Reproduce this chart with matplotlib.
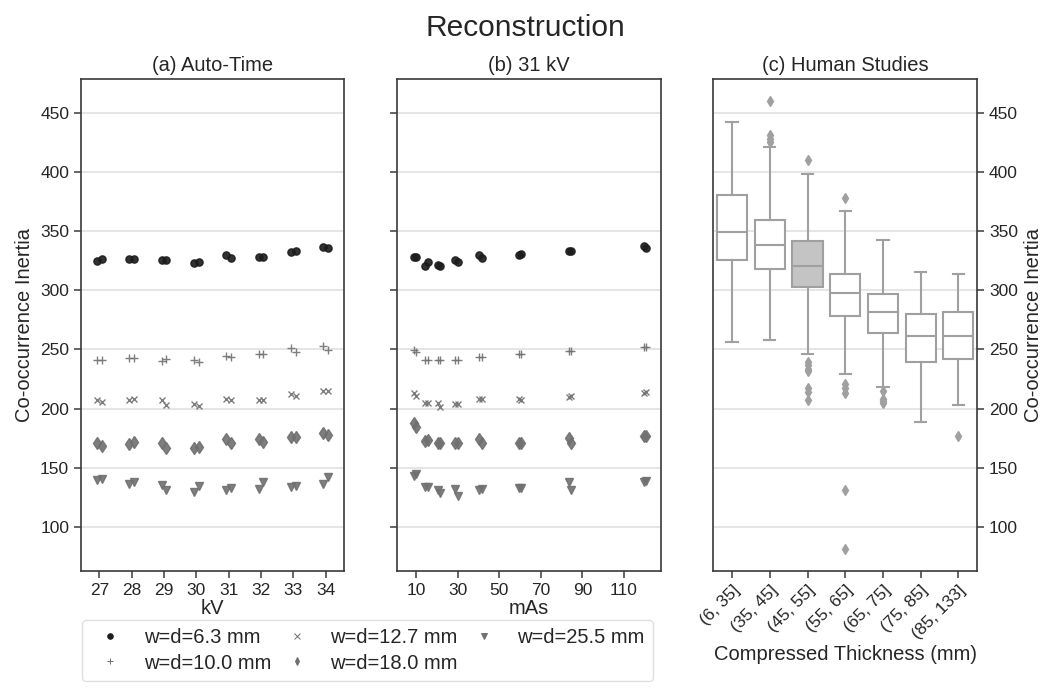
import numpy as np
import matplotlib
matplotlib.use('Agg')
import matplotlib.pyplot as plt
from matplotlib.lines import Line2D

plt.rcParams['font.family'] = ['Liberation Sans', 'DejaVu Sans']
plt.rcParams['text.color'] = '#262626'
plt.rcParams['axes.labelcolor'] = '#262626'
plt.rcParams['xtick.color'] = '#262626'
plt.rcParams['ytick.color'] = '#262626'

# ---- (a) Auto-Time : two replicates per kV ----
kv = [27, 28, 29, 30, 31, 32, 33, 34]
a_w63 = [[324.7, 326.4], [326.4, 326.4], [325.3, 325.6], [323.4, 323.8],
         [329.8, 327.3], [328.1, 328.1], [332.7, 332.9], [336.6, 335.5]]
a_w100 = [[241.0, 241.0], [242.4, 243.0], [240.5, 242.1], [241.0, 239.0],
          [244.1, 243.6], [246.1, 246.1], [251.2, 247.5], [252.5, 249.7]]
a_w127 = [[207.5, 205.8], [207.5, 208.1], [207.5, 203.0], [203.9, 201.9],
          [208.1, 207.5], [206.9, 207.3], [212.3, 210.9], [214.5, 214.8]]
a_w180 = [[171.0, 168.0], [170.4, 171.5], [171.0, 166.4], [167.0, 167.6],
          [174.0, 171.0], [174.3, 171.5], [175.7, 176.3], [179.4, 178.0]]
a_w255 = [[140.0, 140.8], [136.3, 138.3], [135.4, 130.9], [129.6, 134.3],
          [131.5, 132.4], [131.8, 138.0], [133.4, 134.3], [136.6, 141.9]]

# ---- (b) 31 kV : two replicates per mAs ----
mas = [9.5, 15, 21, 29.5, 41, 60, 84, 120]
b_w63 = [[327.9, 328.2], [320.5, 323.9], [321.7, 320.3], [325.6, 323.9],
         [329.8, 327.3], [329.8, 330.4], [332.9, 333.2], [337.9, 335.5]]
b_w100 = [[249.5, 248.0], [241.1, 241.1], [241.1, 241.1], [241.1, 241.3],
          [243.9, 243.9], [245.9, 245.9], [248.7, 248.7], [252.4, 252.4]]
b_w127 = [[213.0, 211.0], [205.0, 204.5], [204.6, 201.7], [203.7, 203.5],
          [207.9, 208.2], [207.9, 207.6], [210.1, 210.3], [213.5, 213.8]]
b_w180 = [[187.7, 184.8], [172.7, 173.2], [170.8, 171.2], [170.8, 171.2],
          [174.0, 171.0], [170.8, 170.8], [175.0, 171.0], [176.4, 176.4]]
b_w255 = [[142.6, 145.0], [133.3, 133.3], [130.8, 128.6], [132.2, 125.7],
          [131.3, 131.6], [132.8, 133.2], [138.3, 130.8], [138.3, 138.6]]

# ---- (c) Human studies : box statistics ----
thick_labels = ['(6, 35]', '(35, 45]', '(45, 55]', '(55, 65]',
                '(65, 75]', '(75, 85]', '(85, 133]']
whis_hi = [442.1, 421.0, 398.0, 367.5, 342.2, 315.5, 313.5]
q3 = [380.5, 359.4, 341.4, 314.0, 296.6, 280.0, 281.7]
med = [349.0, 338.3, 320.8, 297.5, 281.4, 261.7, 261.7]
q1 = [325.3, 317.7, 303.0, 278.3, 263.9, 239.2, 241.7]
whis_lo = [256.3, 258.3, 246.2, 229.3, 218.6, 188.7, 202.9]
fliers = [[],
          [459.9, 431.2, 428.3, 425.5],
          [410.0, 239.2, 236.9, 233.6, 231.9, 217.2, 213.8, 207.3],
          [378.0, 220.9, 217.5, 213.3, 130.8, 81.5],
          [215.2, 208.2, 206.5, 204.5],
          [],
          [176.9]]

series = [
    ('w=d=6.3 mm', 'o', '#1c1c1c', 5.2, a_w63, b_w63),
    ('w=d=10.0 mm', '+', '#707070', 5.5, a_w100, b_w100),
    ('w=d=12.7 mm', 'x', '#707070', 5.0, a_w127, b_w127),
    ('w=d=18.0 mm', 'd', '#707070', 6.5, a_w180, b_w180),
    ('w=d=25.5 mm', 'v', '#707070', 5.8, a_w255, b_w255),
]

fig = plt.figure(figsize=(10.5, 6.95), dpi=100)
ax_a = fig.add_axes([0.0771, 0.1784, 0.2505, 0.7080])
ax_b = fig.add_axes([0.3781, 0.1784, 0.2511, 0.7080], sharey=ax_a)
ax_c = fig.add_axes([0.6793, 0.1784, 0.2514, 0.7080], sharey=ax_a)

for ax in (ax_a, ax_b, ax_c):
    ax.set_axisbelow(True)
    ax.yaxis.grid(True, color='#e3e3e3', lw=1.3)
    for s in ax.spines.values():
        s.set_color('#3a3a3a')
        s.set_linewidth(1.2)
    ax.tick_params(labelsize=12.5, width=1.1, length=5, color='#3a3a3a')

offs_a = [-0.07, 0.07]
offs_b = [-0.6, 0.6]
handles = []
for name, mk, col, ms, da, db in series:
    da = np.array(da)
    db = np.array(db)
    for r in range(2):
        ax_a.plot(np.array(kv) + offs_a[r], da[:, r], ls='none', marker=mk,
                  color=col, mec=col, ms=ms, mew=1.0, alpha=0.9)
        ax_b.plot(np.array(mas) + offs_b[r], db[:, r], ls='none', marker=mk,
                  color=col, mec=col, ms=ms, mew=1.0, alpha=0.9)
    handles.append(Line2D([], [], ls='none', marker=mk, color=col, mec=col,
                          ms=4, mew=0.7, label=name))

ax_a.set_xlim(26.43, 34.57)
ax_a.set_xticks(kv)
ax_a.set_xlabel('kV', fontsize=14.5, labelpad=1)
ax_a.set_ylabel('Co-occurrence Inertia', fontsize=14.5)
ax_a.set_title('(a) Auto-Time', fontsize=14.5, pad=6)
ax_a.set_yticks([100, 150, 200, 250, 300, 350, 400, 450])
ax_a.set_ylim(62.6, 478.8)

ax_b.set_xlim(0.9, 127.6)
ax_b.set_xticks([10, 30, 50, 70, 90, 110])
ax_b.set_xlabel('mAs', fontsize=14.5, labelpad=1)
ax_b.set_title('(b) 31 kV', fontsize=14.5, pad=6)
ax_b.tick_params(axis='y', labelleft=False)

stats = []
for i in range(len(thick_labels)):
    stats.append(dict(med=med[i], q1=q1[i], q3=q3[i], whislo=whis_lo[i],
                      whishi=whis_hi[i], fliers=fliers[i], label=thick_labels[i]))
bp = ax_c.bxp(stats, positions=range(len(stats)), widths=0.8, capwidths=0.3,
              patch_artist=True, showfliers=True,
              boxprops=dict(edgecolor='#a0a0a0', lw=1.5),
              medianprops=dict(color='#a0a0a0', lw=1.5),
              whiskerprops=dict(color='#a0a0a0', lw=1.5),
              capprops=dict(color='#a0a0a0', lw=1.5),
              flierprops=dict(marker='d', markerfacecolor='#a0a0a0',
                              markeredgecolor='#a0a0a0', markersize=5))
for i, patch in enumerate(bp['boxes']):
    patch.set_facecolor('#c4c4c4' if i == 2 else 'white')
ax_c.set_xlim(-0.5, 6.5)
ax_c.set_xticks(range(len(thick_labels)))
ax_c.set_xticklabels(thick_labels, rotation=45, ha='right',
                     rotation_mode='anchor', fontsize=12.5)
ax_c.set_xlabel('Compressed Thickness (mm)', fontsize=14.5, labelpad=2)
ax_c.set_title('(c) Human Studies', fontsize=14.5, pad=6)
ax_c.yaxis.tick_right()
ax_c.yaxis.set_label_position('right')
ax_c.tick_params(axis='y', labelright=True, labelleft=False, left=False)
ax_c.set_ylabel('Co-occurrence Inertia', fontsize=14.5)
ax_c.set_ylim(62.6, 478.8)

fig.suptitle('Reconstruction', fontsize=21.5, y=0.98)

fig.legend(handles=handles, ncol=3, loc='center',
           bbox_to_anchor=(0.35, 0.064), fontsize=14.5, frameon=True,
           edgecolor='#d8d8d8', columnspacing=0.3, handletextpad=0.65,
           borderpad=0.4, labelspacing=0.3)

fig.savefig('out.png', dpi=100)
